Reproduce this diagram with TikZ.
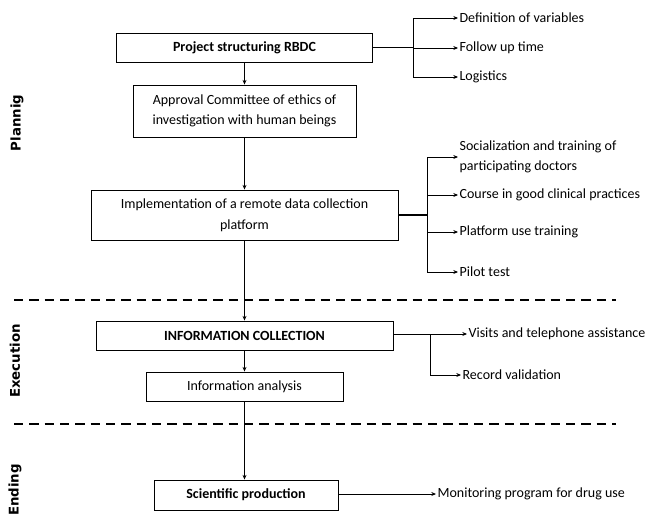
\documentclass[tikz,border=0pt]{standalone}
\usepackage{fontspec}
\setmainfont{Carlito}
\newfontfamily\sidefont{DejaVu Sans}
\usetikzlibrary{arrows.meta}
\begin{document}
\begin{tikzpicture}[x=0.75pt,y=-0.75pt,
  box/.style={draw,line width=0.7pt,inner sep=1pt,align=center,font=\fontsize{10.5}{15.5}\selectfont},
  bbox/.style={box,font=\fontsize{10.5}{15.5}\selectfont\bfseries},
  lbl/.style={anchor=west,inner sep=1pt,align=left,font=\fontsize{10.5}{14.5}\selectfont},
  side/.style={rotate=90,font=\sidefont\bfseries\fontsize{10}{12}\selectfont},
  arr/.style={line width=0.6pt,-{Stealth[length=3.5pt,width=3pt]}},
  trunk/.style={line width=1.4pt},
  sep/.style={line width=1.6pt,dash pattern=on 7pt off 4.5pt}]
\useasboundingbox (0,0) rectangle (652,518);
% boxes
\node[bbox,minimum width=192pt,minimum height=21.75pt] (b1) at (244.5,47.5) {Project structuring RBDC};
\node[box,minimum width=167.25pt,minimum height=39pt] (b2) at (244.5,111) {Approval Committee of ethics of\\investigation with human beings};
\node[box,minimum width=230.25pt,minimum height=37.5pt] (b3) at (244.5,215) {Implementation of a remote data collection\\platform};
\node[bbox,minimum width=222.75pt,minimum height=21.75pt] (b4) at (244.5,335.5) {INFORMATION COLLECTION};
\node[box,minimum width=147.75pt,minimum height=21.75pt] (b5) at (244.5,386.5) {Information analysis};
\node[bbox,minimum width=138pt,minimum height=22.5pt] (b6) at (246,495) {Scientific production};
% side labels
\node[side] (p1) at (17,123) {Plannig};
\node[side] (p2) at (15,361) {Execution};
\node[side] (p3) at (15,490) {Ending};
% separators
\coordinate (d1a) at (14,300); \coordinate (d1b) at (616,300);
\coordinate (d2a) at (14,424); \coordinate (d2b) at (616,424);
\draw[sep] (d1a) -- (d1b);
\draw[sep] (d2a) -- (d2b);
% vertical flow
\draw[arr] (b1.south) -- (b2.north);
\draw[arr] (b2.south) -- (b3.north);
\draw[arr] (b3.south) -- (b4.north);
\draw[arr] (b4.south) -- (b5.north);
\draw[arr] (b5.south) -- (b5.south |- b6.north);
% branch 1
\node[lbl] (t11) at (458,18) {Definition of variables};
\node[lbl] (t12) at (458,48) {Follow up time};
\node[lbl] (t13) at (458,77) {Logistics};
\coordinate (k1) at (413,47.5);
\draw[trunk] (b1.east) -- (k1);
\draw[line width=0.6pt] (k1 |- t11.west) -- (k1 |- t13.west);
\draw[arr] (k1 |- t11.west) -- (t11.west);
\draw[arr] (k1 |- t12.west) -- (t12.west);
\draw[arr] (k1 |- t13.west) -- (t13.west);
% branch 2
\node[lbl] (t21) at (458,157) {Socialization and training of\\participating doctors};
\node[lbl] (t22) at (458,195) {Course in good clinical practices};
\node[lbl] (t23) at (458,232) {Platform use training};
\node[lbl] (t24) at (458,272) {Pilot test};
\coordinate (k2) at (427,215);
\draw[trunk] (b3.east) -- (k2);
\draw[line width=0.6pt] (k2 |- t21.west) -- (k2 |- t24.west);
\draw[arr] (k2 |- t21.west) -- (t21.west);
\draw[arr] (k2 |- t22.west) -- (t22.west);
\draw[arr] (k2 |- t23.west) -- (t23.west);
\draw[arr] (k2 |- t24.west) -- (t24.west);
% branch 3
\node[lbl] (t31) at (467,334) {Visits and telephone assistance};
\node[lbl] (t32) at (461,375) {Record validation};
\coordinate (k3) at (430,334);
\draw[arr] (b4.east |- t31.west) -- (t31.west);
\draw[line width=0.6pt] (k3) -- (k3 |- t32.west);
\draw[arr] (k3 |- t32.west) -- (t32.west);
% branch 4
\node[lbl] (t41) at (436,494) {Monitoring program for drug use};
\draw[arr] (b6.east |- t41.west) -- (t41.west);
\end{tikzpicture}
\end{document}
